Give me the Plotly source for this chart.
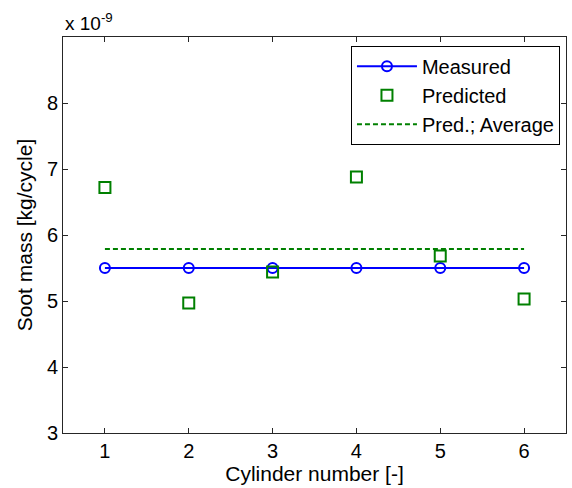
import plotly.graph_objects as go

# Soot mass per cylinder, in units of 1e-9 kg/cycle
cylinders = [1, 2, 3, 4, 5, 6]
measured = [5.50, 5.50, 5.50, 5.50, 5.50, 5.50]
predicted = [6.72, 4.97, 5.44, 6.88, 5.68, 5.03]
pred_average = sum(predicted) / len(predicted)

x_ticks = [1, 2, 3, 4, 5, 6]
y_ticks = [3, 4, 5, 6, 7, 8]

font_family = "Liberation Sans, Arial, sans-serif"

fig = go.Figure()
fig.add_trace(go.Scatter(
    x=cylinders, y=measured, name="Measured", mode="lines+markers",
    line=dict(color="#0000ff", width=2),
    marker=dict(symbol="circle-open", size=10, color="#0000ff", line=dict(width=2)),
))
fig.add_trace(go.Scatter(
    x=cylinders, y=predicted, name="Predicted", mode="markers",
    marker=dict(symbol="square-open", size=11, color="#008000", line=dict(width=2)),
))
fig.add_trace(go.Scatter(
    x=[cylinders[0], cylinders[-1]], y=[pred_average, pred_average],
    name="Pred.; Average", mode="lines",
    line=dict(color="#008000", width=2, dash="5px,3px"),
))

axis_common = dict(
    showgrid=False, zeroline=False, showline=True, linecolor="#262626",
    linewidth=1, mirror="allticks", ticks="inside", ticklen=5,
    tickcolor="#262626", tickfont=dict(size=20, color="#000000"),
    automargin=False,
)

fig.update_layout(
    width=572, height=488,
    margin=dict(l=63, r=6, t=37, b=55),
    paper_bgcolor="white", plot_bgcolor="white",
    font=dict(family=font_family, size=20, color="#000000"),
    showlegend=True,
    legend=dict(
        x=0.988, y=0.978, xanchor="right", yanchor="top",
        bgcolor="white", bordercolor="#000000", borderwidth=1,
        font=dict(size=20), tracegroupgap=0, itemwidth=60,
    ),
    xaxis=dict(range=[0.5, 6.5], tickvals=x_ticks,
               title=dict(text="Cylinder number [-]", font=dict(size=21), standoff=5),
               **axis_common),
    yaxis=dict(range=[3, 9], tickvals=y_ticks,
               title=dict(text="Soot mass [kg/cycle]", font=dict(size=21), standoff=8),
               **axis_common),
    annotations=[dict(
        text="x 10<sup>-9</sup>", xref="paper", yref="paper", x=0, y=1,
        xanchor="left", yanchor="bottom", showarrow=False, yshift=1,
        font=dict(size=19),
    )],
)

fig.write_html("out.html")
